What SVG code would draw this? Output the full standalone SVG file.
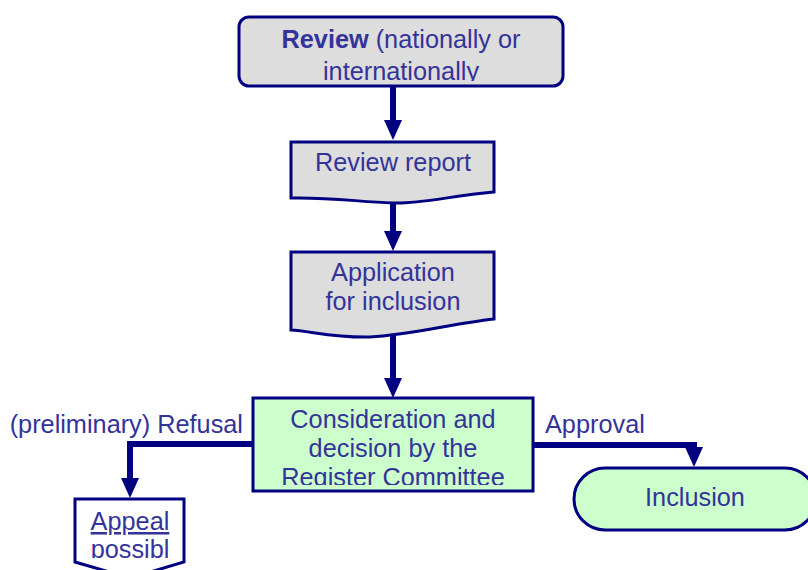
<svg xmlns="http://www.w3.org/2000/svg" width="808" height="570" viewBox="0 0 808 570">
<style>
  text { font-family: "Liberation Sans", Arial, sans-serif; font-size: 25.3px; fill: #333399; }
  .c { text-anchor: middle; }
  .gray { fill: #dddddd; stroke: #000080; stroke-width: 3; }
  .green { fill: #ccffcc; stroke: #000080; stroke-width: 3; }
  .white { fill: #ffffff; stroke: #000080; stroke-width: 3; }
  .conn { fill: none; stroke: #000080; stroke-width: 6; stroke-linejoin: miter; }
</style>
<defs>
  <marker id="ah" markerUnits="userSpaceOnUse" markerWidth="20" markerHeight="20" viewBox="0 0 20 20" refX="0" refY="10" orient="auto">
    <path d="M0,1 L20,10 L0,19 z" fill="#000080"/>
  </marker>
  <clipPath id="clipTop"><rect x="238" y="16" width="326" height="65"/></clipPath>
  <clipPath id="clipCons"><rect x="252" y="398" width="282" height="87"/></clipPath>
  <clipPath id="clipAppeal"><rect x="74" y="499" width="111" height="59"/></clipPath>
</defs>

<g id="connectors">
  <path class="conn" d="M393,86 V120" marker-end="url(#ah)"/>
  <path class="conn" d="M393,198 V231" marker-end="url(#ah)"/>
  <path class="conn" d="M393,334 V378" marker-end="url(#ah)"/>
  <path class="conn" d="M252,444 H130 V478" marker-end="url(#ah)"/>
  <path class="conn" d="M533,445 H694 V447" marker-end="url(#ah)"/>
</g>

<g id="review">
  <rect class="gray" x="239" y="17" width="324" height="69" rx="10"/>
  <g clip-path="url(#clipTop)">
    <text class="c" x="401" y="48"><tspan font-weight="bold">Review</tspan> (nationally or</text>
    <text class="c" x="401" y="80">internationally</text>
  </g>
</g>

<g id="review-report">
  <path class="gray" d="M291,142 H494 V192 C450,196 420,204 393,203 C360,202 330,197 291,198 Z"/>
  <text class="c" x="393" y="171">Review report</text>
</g>

<g id="application">
  <path class="gray" d="M291,252 H494 V319 C450,324 410,335 370,337 C335,338 310,331 291,330 Z"/>
  <text class="c" x="393" y="281">Application</text>
  <text class="c" x="393" y="310">for inclusion</text>
</g>

<g id="consideration">
  <rect class="green" x="253" y="398" width="280" height="93"/>
  <g clip-path="url(#clipCons)">
    <text class="c" x="393" y="428">Consideration and</text>
    <text class="c" x="393" y="457">decision by the</text>
    <text class="c" x="393" y="486">Register Committee</text>
  </g>
</g>

<g id="refusal-label">
  <text x="243" y="433" text-anchor="end">(preliminary) Refusal</text>
</g>

<g id="approval-label">
  <text x="545" y="433">Approval</text>
</g>

<g id="appeal">
  <path class="white" d="M75,499 H184 V562 L130,578 L75,562 Z"/>
  <g clip-path="url(#clipAppeal)">
    <text class="c" x="130" y="530" text-decoration="underline">Appeal</text>
    <text class="c" x="130" y="558">possibl</text>
  </g>
</g>

<g id="inclusion">
  <rect class="green" x="574" y="468" width="242" height="62" rx="31"/>
  <text class="c" x="695" y="506">Inclusion</text>
</g>
</svg>
